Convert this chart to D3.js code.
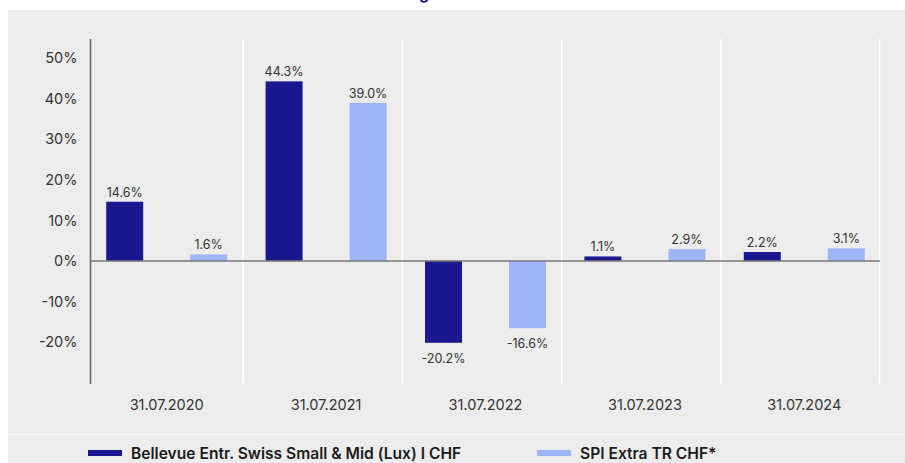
<!DOCTYPE html>
<html>
<head>
<meta charset="utf-8">
<script src="https://cdn.jsdelivr.net/npm/d3@7"></script>
<style>
  body { margin: 0; background: #fff; }
  svg { display: block; }
  text { font-family: Inter, "Noto Sans", sans-serif; }
</style>
</head>
<body>
<div id="chart"></div>
<script>
var categories = ["31.07.2020", "31.07.2021", "31.07.2022", "31.07.2023", "31.07.2024"];
var seriesNames = ["Bellevue Entr. Swiss Small & Mid (Lux) I CHF", "SPI Extra TR CHF*"];
var fundValues = [14.6, 44.3, -20.2, 1.1, 2.2];
var indexValues = [1.6, 39.0, -16.6, 2.9, 3.1];
var yTicks = [-20, -10, 0, 10, 20, 30, 40, 50];
var colors = ["#1a1891", "#9db4f9"];

var width = 905,
    height = 463;

var svg = d3.select("#chart").append("svg")
    .attr("width", width)
    .attr("height", height);

// title is cut off at the top of the picture, only the descender shows
svg.append("text")
    .attr("x", 424)
    .attr("y", -1.5)
    .attr("text-anchor", "middle")
    .style("font-size", "16px")
    .style("font-weight", 700)
    .style("fill", "#1a1891")
    .text("g");

svg.append("rect")
    .attr("x", 8).attr("y", 10)
    .attr("width", width - 8).attr("height", height - 10)
    .style("fill", "#ececec");

svg.append("line")
    .attr("x1", 8).attr("x2", width)
    .attr("y1", 434.5).attr("y2", 434.5)
    .style("stroke", "#f6f6f6")
    .style("stroke-width", 1.5);

var x = d3.scaleBand().domain(categories).range([87, 884]);
var y = d3.scaleLinear().domain([-30, 55]).range([382.5, 38]);

var rows = categories.map(function (c, i) {
  return { cat: c, values: [fundValues[i], indexValues[i]] };
});

// white separators between groups
svg.selectAll(".grid")
    .data(categories.slice(1).concat(["end"]))
  .enter().append("line")
    .attr("class", "grid")
    .attr("x1", function (d) { return d == "end" ? x.range()[1] - 4.5 : x(d) - 3.5; })
    .attr("x2", function (d) { return d == "end" ? x.range()[1] - 4.5 : x(d) - 3.5; })
    .attr("y1", y(55) + 1).attr("y2", y(-30) + 1)
    .style("stroke", "#fff")
    .style("stroke-width", 1.5);

var offsets = [-42, 42],
    barW = 37;

var g = svg.selectAll(".group")
    .data(rows)
  .enter().append("g")
    .attr("class", "group")
    .attr("transform", function (d) { return "translate(" + (x(d.cat) + x.bandwidth() / 2) + ",0)"; });

g.selectAll("rect")
    .data(function (d) { return d.values; })
  .enter().append("rect")
    .attr("x", function (d, i) { return offsets[i] - barW / 2; })
    .attr("y", function (d) { return y(Math.max(0, d)); })
    .attr("width", barW)
    .attr("height", function (d) { return Math.abs(y(d) - y(0)); })
    .style("fill", function (d, i) { return colors[i]; });

g.selectAll(".val")
    .data(function (d) { return d.values; })
  .enter().append("text")
    .attr("class", "val")
    .attr("x", function (d, i) { return offsets[i]; })
    .attr("y", function (d) { return d >= 0 ? y(d) - 5 : y(d) + 20; })
    .attr("text-anchor", "middle")
    .style("font-size", "12.5px")
    .style("fill", "#333")
    .text(function (d) { return d.toFixed(1) + "%"; });

// zero line
svg.append("line")
    .attr("x1", 90).attr("x2", 880)
    .attr("y1", y(0)).attr("y2", y(0))
    .style("stroke", "#777")
    .style("stroke-width", 1.5);

// y axis
var yAxis = svg.append("g")
    .attr("transform", "translate(90.5,0)")
    .call(d3.axisLeft(y).tickValues(yTicks).tickSize(0).tickPadding(13)
      .tickFormat(function (d) { return d + "%"; }));
yAxis.select(".domain")
    .attr("d", "M0," + (y(55) + 1) + "V" + (y(-30) + 1.5))
    .style("stroke", "#666")
    .style("stroke-width", 1.5);
yAxis.selectAll("text")
    .style("font-family", "Inter, sans-serif")
    .style("font-size", "14.5px")
    .style("fill", "#333");

// x labels
svg.selectAll(".xlab")
    .data(categories)
  .enter().append("text")
    .attr("class", "xlab")
    .attr("x", function (d) { return x(d) + x.bandwidth() / 2; })
    .attr("y", 410)
    .attr("text-anchor", "middle")
    .style("font-size", "14.5px")
    .style("fill", "#333")
    .text(function (d) { return d; });

// legend
var legendX = [88, 537];
var leg = svg.selectAll(".leg")
    .data(seriesNames)
  .enter().append("g")
    .attr("class", "leg")
    .attr("transform", function (d, i) { return "translate(" + legendX[i] + ",0)"; });

leg.append("rect")
    .attr("x", 0).attr("y", 450)
    .attr("width", 34).attr("height", 6)
    .style("fill", function (d, i) { return colors[i]; });

leg.append("text")
    .attr("x", 43).attr("y", 458.5)
    .style("font-size", "15.6px")
    .style("font-weight", 600)
    .style("fill", "#1b1b1b")
    .text(function (d) { return d; });
</script>
</body>
</html>
